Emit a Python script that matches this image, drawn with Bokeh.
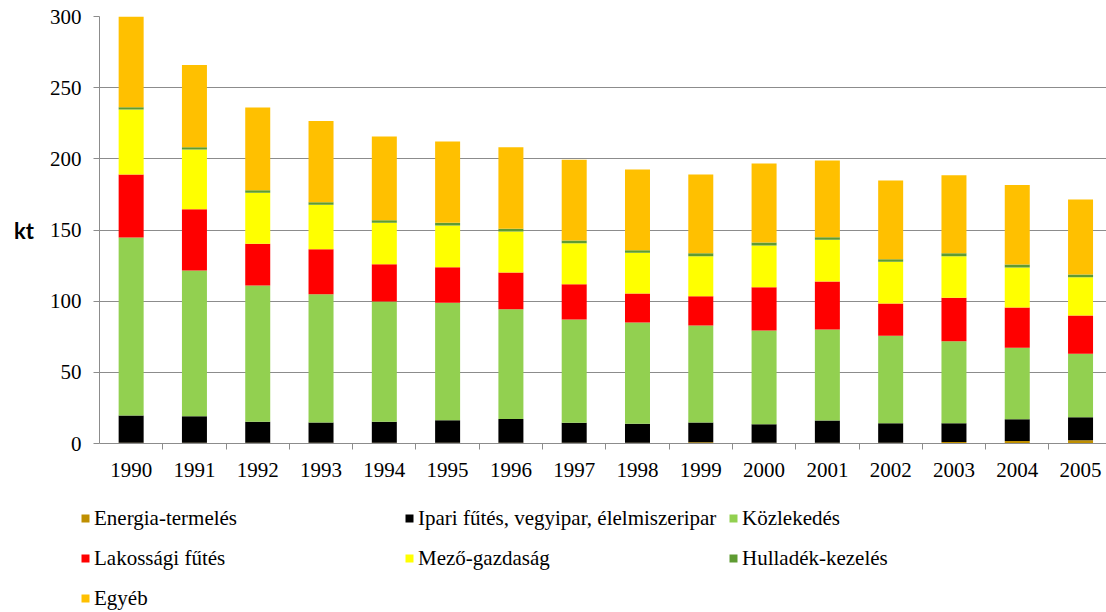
from bokeh.plotting import figure
from bokeh.layouts import column
from bokeh.models import (ColumnDataSource, Range1d, FixedTicker, Legend, LegendItem)
from bokeh.embed import file_html
from bokeh.resources import INLINE

years = ["1990", "1991", "1992", "1993", "1994", "1995", "1996", "1997",
         "1998", "1999", "2000", "2001", "2002", "2003", "2004", "2005"]

series_names = ["Energia-termelés", "Ipari fűtés, vegyipar, élelmiszeripar",
                "Közlekedés", "Lakossági fűtés", "Mező-gazdaság",
                "Hulladék-kezelés", "Egyéb"]
series_colors = ["#BF8F00", "#000000", "#92D050", "#FF0000", "#FFFF00",
                 "#5E9B32", "#FFC000"]

energia = [0.5, 0.5, 0.5, 0.5, 0.5, 0.5, 0.5, 0.5, 0.5, 0.8, 0.5, 0.5, 0.5, 1.0, 1.8, 2.3]
ipari = [19.2, 18.7, 14.7, 14.3, 14.7, 15.9, 16.8, 14.0, 13.3, 14.0, 13.1, 15.7, 13.8, 13.3, 15.3, 16.2]
kozlekedes = [125.0, 102.3, 95.8, 90.1, 84.6, 82.4, 77.1, 72.6, 71.2, 68.1, 65.8, 63.9, 61.4, 57.6, 50.1, 44.5]
lakossagi = [44.3, 43.1, 29.3, 31.6, 26.2, 25.1, 25.7, 24.8, 20.4, 20.6, 30.4, 33.7, 22.7, 30.5, 28.4, 26.9]
mezo = [45.7, 42.0, 35.9, 31.2, 29.1, 29.3, 28.8, 28.8, 28.6, 28.1, 29.3, 29.3, 29.3, 29.2, 28.1, 26.9]
hulladek = [1.5, 1.6, 1.8, 1.8, 1.8, 1.9, 1.9, 1.9, 1.8, 2.1, 2.1, 1.8, 1.8, 2.1, 2.1, 1.9]
egyeb = [64.0, 57.8, 58.0, 57.0, 58.8, 57.1, 57.4, 56.7, 56.7, 55.3, 55.5, 53.9, 55.3, 54.8, 55.9, 52.7]

y_ticks = [0, 50, 100, 150, 200, 250, 300]

SERIF = "'Liberation Serif', 'Times New Roman', serif"

keys = ["s0", "s1", "s2", "s3", "s4", "s5", "s6"]
data = dict(x=[i + 0.5 for i in range(len(years))])
for k, vals in zip(keys, [energia, ipari, kozlekedes, lakossagi, mezo, hulladek, egyeb]):
    data[k] = vals
source = ColumnDataSource(data)

p = figure(width=1106, height=490, output_backend="svg", toolbar_location=None,
           x_range=Range1d(0, 15.91), y_range=Range1d(0, 300),
           min_border_left=99, min_border_right=0, min_border_top=16,
           min_border_bottom=47)
p.outline_line_color = None
p.background_fill_color = "white"
p.border_fill_color = "white"
p.frame_align = False

renderers = p.vbar_stack(keys, x="x", width=0.395, color=series_colors,
                         line_color=None, source=source)

# axes
p.xgrid.grid_line_color = None
p.ygrid.grid_line_color = "#8C8C8C"
p.ygrid.grid_line_width = 1
p.ygrid.ticker = FixedTicker(ticks=y_ticks)

p.yaxis.ticker = FixedTicker(ticks=y_ticks)
p.yaxis.axis_line_color = "#8C8C8C"
p.yaxis.major_tick_line_color = "#8C8C8C"
p.yaxis.major_tick_out = 6
p.yaxis.major_tick_in = 0
p.yaxis.minor_tick_line_color = None
p.yaxis.major_label_standoff = 12
p.yaxis.major_label_text_font = SERIF
p.yaxis.major_label_text_font_size = "21px"
p.yaxis.major_label_text_color = "black"
p.yaxis.axis_label = "kt"
p.yaxis.axis_label_orientation = "horizontal"
p.yaxis.axis_label_text_font = "Lato"
p.yaxis.axis_label_text_font_style = "bold"
p.yaxis.axis_label_text_font_size = "22px"
p.yaxis.axis_label_text_color = "black"
p.yaxis.axis_label_standoff = 13

centers = [i + 0.5 for i in range(len(years))]
bounds = [float(i) for i in range(1, len(years))]
p.xaxis.ticker = FixedTicker(ticks=centers, minor_ticks=bounds)
p.xaxis.major_label_overrides = {c: y for c, y in zip(centers, years)}
p.xaxis.axis_line_color = "#8C8C8C"
p.xaxis.major_tick_line_color = None
p.xaxis.major_tick_out = 0
p.xaxis.major_tick_in = 0
p.xaxis.minor_tick_line_color = "#8C8C8C"
p.xaxis.minor_tick_out = 6
p.xaxis.minor_tick_in = 0
p.xaxis.major_label_standoff = 13
p.xaxis.major_label_text_font = SERIF
p.xaxis.major_label_text_font_size = "21px"
p.xaxis.major_label_text_color = "black"

# legend figure (bars drawn outside its visible range, only the legend shows)
lg = figure(width=1106, height=122, output_backend="svg", toolbar_location=None,
            x_range=Range1d(0, 1), y_range=Range1d(1000, 1001),
            x_axis_type=None, y_axis_type=None,
            min_border_left=0, min_border_right=0, min_border_top=0,
            min_border_bottom=0)
lg.outline_line_color = None
lg.xgrid.grid_line_color = None
lg.ygrid.grid_line_color = None
lg.frame_align = False
lg_renderers = lg.vbar_stack(keys, x="x", width=0.395, color=series_colors,
                             line_color=None, source=source)

items = [LegendItem(label=n, renderers=[r]) for n, r in zip(series_names, lg_renderers)]
legend = Legend(items=items, location=(80, -6), orientation="horizontal", ncols=3,
                glyph_width=10, glyph_height=10, label_standoff=4, label_width=310,
                label_height=40, spacing=0, padding=0, margin=0,
                label_text_font=SERIF, label_text_font_size="21px",
                label_text_color="black", background_fill_alpha=0,
                border_line_color=None)
lg.add_layout(legend, "center")

layout = column(p, lg, spacing=0)
open("out.html", "w").write(file_html(layout, INLINE))
